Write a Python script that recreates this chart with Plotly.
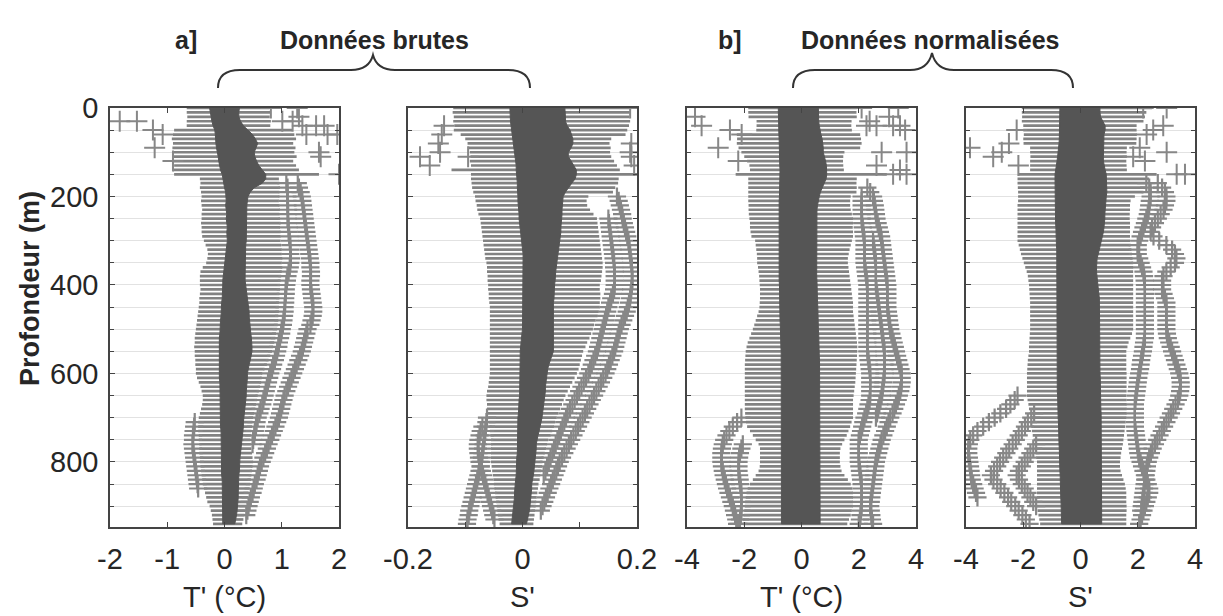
import plotly.graph_objects as go

W, H = 1223, 616

# ---------------- data ----------------
DEPTH = [0, 10, 20, 30, 40, 50, 60, 70, 80, 90,
         100, 110, 120, 130, 140, 150, 160, 170, 180, 190,
         200, 210, 220, 230, 240, 250, 260, 270, 280, 290,
         300, 310, 320, 330, 340, 350, 360, 370, 380, 390,
         400, 410, 420, 430, 440, 450, 460, 470, 480, 490,
         500, 510, 520, 530, 540, 550, 560, 570, 580, 590,
         600, 610, 620, 630, 640, 650, 660, 670, 680, 690,
         700, 710, 720, 730, 740, 750, 760, 770, 780, 790,
         800, 810, 820, 830, 840, 850, 860, 870, 880, 890,
         900, 910, 920, 930, 940]

# ---- panel a1 : T' raw ----
P1_Q1 = [-0.26,-0.25,-0.24,-0.22,-0.20,-0.17,-0.16,-0.16,-0.15,-0.14,
         -0.12,-0.11,-0.10,-0.09,-0.07,-0.04,-0.03,-0.02,0.00,0.02,
         0.03,0.03,0.02,0.03,0.04,0.03,0.04,0.05,0.04,0.05,
         0.05,0.04,0.03,0.02,0.01,0.00,-0.01,-0.01,-0.02,-0.03,
         -0.03,-0.03,-0.04,-0.04,-0.05,-0.05,-0.06,-0.06,-0.07,-0.07,
         -0.08,-0.08,-0.09,-0.09,-0.09,-0.09,-0.10,-0.09,-0.09,-0.09,
         -0.09,-0.09,-0.08,-0.08,-0.07,-0.07,-0.07,-0.08,-0.08,-0.08,
         -0.08,-0.07,-0.07,-0.06,-0.06,-0.06,-0.06,-0.06,-0.06,-0.06,
         -0.06,-0.05,-0.05,-0.05,-0.04,-0.04,-0.04,-0.04,-0.03,-0.03,
         -0.03,-0.03,-0.03,-0.03,-0.03]
P1_Q3 = [0.26,0.25,0.25,0.28,0.33,0.41,0.49,0.54,0.58,0.55,
         0.52,0.53,0.56,0.60,0.66,0.72,0.72,0.66,0.52,0.45,
         0.41,0.40,0.39,0.38,0.38,0.38,0.38,0.38,0.38,0.38,
         0.38,0.37,0.37,0.36,0.36,0.36,0.36,0.36,0.36,0.36,
         0.36,0.37,0.38,0.39,0.40,0.42,0.43,0.43,0.44,0.44,
         0.45,0.46,0.47,0.48,0.48,0.48,0.47,0.45,0.43,0.41,
         0.40,0.40,0.39,0.39,0.38,0.38,0.37,0.36,0.35,0.35,
         0.34,0.33,0.33,0.32,0.31,0.30,0.30,0.29,0.28,0.27,
         0.26,0.26,0.26,0.25,0.25,0.25,0.24,0.24,0.24,0.23,
         0.23,0.22,0.21,0.20,0.18]
P1_WLO = [-0.66,-0.66,-0.65,-0.66,-0.66,-0.88,-0.90,-0.92,-0.90,-0.91,
          -0.90,-0.89,-0.90,-0.88,-0.90,-0.88,-0.43,-0.42,-0.43,-0.41,
          -0.40,-0.41,-0.40,-0.39,-0.40,-0.40,-0.41,-0.40,-0.40,-0.39,
          -0.36,-0.33,-0.30,-0.29,-0.30,-0.32,-0.38,-0.42,-0.43,-0.43,
          -0.43,-0.42,-0.43,-0.44,-0.44,-0.45,-0.46,-0.47,-0.48,-0.49,
          -0.50,-0.51,-0.52,-0.52,-0.53,-0.52,-0.52,-0.51,-0.51,-0.50,
          -0.50,-0.48,-0.45,-0.42,-0.40,-0.38,-0.38,-0.39,-0.41,-0.43,
          -0.45,-0.46,-0.46,-0.46,-0.45,-0.45,-0.44,-0.44,-0.44,-0.43,
          -0.43,-0.42,-0.41,-0.40,-0.39,-0.38,-0.36,-0.34,-0.32,-0.30,
          -0.26,-0.24,-0.22,-0.21,-0.20]
P1_WHI = [0.78,0.80,0.79,0.81,0.80,1.18,1.22,1.25,1.20,1.24,
          1.22,1.26,1.20,1.25,1.30,1.65,0.95,0.96,0.97,0.96,
          0.96,0.95,0.96,0.97,0.96,0.97,0.98,0.97,0.98,0.98,
          0.98,0.99,1.00,1.00,1.01,1.00,1.01,1.00,0.99,0.98,
          0.97,0.97,0.96,0.96,0.95,0.95,0.95,0.94,0.94,0.93,
          0.92,0.90,0.89,0.87,0.85,0.83,0.80,0.77,0.74,0.70,
          0.66,0.65,0.64,0.62,0.60,0.58,0.57,0.55,0.54,0.52,
          0.50,0.49,0.48,0.47,0.46,0.45,0.46,0.47,0.48,0.49,
          0.50,0.49,0.48,0.47,0.46,0.45,0.44,0.42,0.41,0.40,
          0.38,0.36,0.35,0.33,0.31]
P1_STREAK_IN_TOP = 170
P1_STREAK_IN = [1.08,1.10,1.10,
                1.10,1.10,1.10,1.11,1.11,1.10,1.11,1.12,1.12,1.13,
                1.14,1.15,1.15,1.15,1.16,1.15,1.14,1.12,1.10,1.09,
                1.08,1.07,1.07,1.06,1.06,1.05,1.05,1.04,1.03,1.02,
                1.00,0.99,0.97,0.95,0.94,0.92,0.90,0.88,0.85,0.83,
                0.80,0.78,0.76,0.74,0.72,0.70,0.68,0.66,0.63,0.61,
                0.58,0.56,0.55,0.53,0.52,0.50,0.49]
P1_STREAK_OUT_TOP = 170
P1_STREAK_OUT = [1.28,1.30,1.33,
                 1.35,1.36,1.37,1.38,1.39,1.40,1.41,1.42,1.43,1.44,
                 1.45,1.46,1.47,1.48,1.49,1.50,1.50,1.51,1.51,1.50,
                 1.50,1.51,1.52,1.53,1.54,1.55,1.55,1.54,1.52,1.50,
                 1.45,1.43,1.41,1.39,1.37,1.35,1.32,1.29,1.26,1.23,
                 1.20,1.17,1.14,1.11,1.08,1.05,1.03,1.01,0.99,0.97,
                 0.95,0.92,0.89,0.86,0.83,0.80,0.77,0.74,0.71,0.68,
                 0.65,0.62,0.60,0.58,0.56,0.53,0.51,0.49,0.46,0.44,
                 0.42,0.40,0.38]
P1_STREAK_L_TOP = 710
P1_STREAK_L = [-0.52,-0.53,-0.54,-0.55,-0.55,-0.56,-0.55,-0.54,-0.53,-0.52,
               -0.51,-0.50,-0.49,-0.48,-0.47,-0.46]
P1_PLUS_X = [-1.83,-1.53,-1.25,-1.08,-1.22,-0.90,0.81,1.01,1.27,1.19,
             1.36,1.60,1.74,1.80,1.97,1.65,1.68,2.00,1.30,1.43]
P1_PLUS_D = [30,30,50,60,90,120,0,30,0,30,
             40,40,40,60,60,100,110,150,20,60]

# ---- panel a2 : S' raw ----
P2_Q1 = [-0.022,-0.022,-0.021,-0.021,-0.020,-0.019,-0.018,-0.017,-0.016,-0.015,
         -0.013,-0.012,-0.012,-0.011,-0.011,-0.010,-0.010,-0.009,-0.009,-0.008,
         -0.008,-0.008,-0.007,-0.007,-0.006,-0.006,-0.005,-0.004,-0.003,-0.002,
         -0.001,0.000,0.000,0.001,0.001,0.001,0.001,0.001,0.001,0.001,
         0.001,0.001,0.001,0.001,0.001,0.001,0.001,0.000,0.000,0.000,
         0.000,-0.001,-0.002,-0.003,-0.004,-0.004,-0.004,-0.004,-0.004,-0.004,
         -0.004,-0.004,-0.005,-0.005,-0.005,-0.005,-0.006,-0.006,-0.007,-0.007,
         -0.008,-0.008,-0.008,-0.008,-0.008,-0.008,-0.009,-0.009,-0.009,-0.010,
         -0.010,-0.010,-0.011,-0.011,-0.012,-0.013,-0.013,-0.014,-0.014,-0.015,
         -0.016,-0.016,-0.017,-0.018,-0.019]
P2_Q3 = [0.074,0.074,0.075,0.075,0.078,0.083,0.086,0.088,0.088,0.085,
         0.080,0.080,0.085,0.090,0.094,0.094,0.092,0.086,0.080,0.075,
         0.071,0.070,0.070,0.069,0.069,0.068,0.068,0.067,0.067,0.066,
         0.066,0.065,0.064,0.063,0.062,0.060,0.059,0.058,0.057,0.057,
         0.056,0.056,0.055,0.055,0.054,0.053,0.053,0.053,0.053,0.053,
         0.053,0.053,0.054,0.054,0.054,0.054,0.052,0.049,0.046,0.044,
         0.042,0.041,0.041,0.040,0.040,0.040,0.039,0.038,0.036,0.035,
         0.034,0.033,0.031,0.029,0.027,0.025,0.024,0.024,0.023,0.023,
         0.022,0.021,0.020,0.019,0.018,0.016,0.016,0.015,0.014,0.014,
         0.013,0.012,0.010,0.009,0.007]
P2_WLO = [-0.121,-0.122,-0.120,-0.121,-0.119,-0.120,-0.108,-0.100,-0.096,-0.094,
          -0.092,-0.091,-0.092,-0.090,-0.124,-0.090,-0.090,-0.089,-0.088,-0.086,
          -0.083,-0.082,-0.080,-0.079,-0.077,-0.074,-0.073,-0.072,-0.071,-0.070,
          -0.069,-0.068,-0.067,-0.066,-0.065,-0.063,-0.062,-0.062,-0.061,-0.061,
          -0.060,-0.060,-0.059,-0.059,-0.058,-0.057,-0.057,-0.057,-0.057,-0.057,
          -0.057,-0.057,-0.057,-0.057,-0.057,-0.057,-0.057,-0.057,-0.057,-0.057,
          -0.057,-0.058,-0.059,-0.060,-0.062,-0.063,-0.063,-0.062,-0.062,-0.061,
          -0.060,-0.059,-0.058,-0.057,-0.056,-0.055,-0.055,-0.055,-0.055,-0.055,
          -0.055,-0.054,-0.053,-0.052,-0.051,-0.050,-0.049,-0.048,-0.047,-0.046,
          -0.045,-0.044,-0.043,-0.042,-0.040]
P2_WHI = [0.190,0.188,0.187,0.188,0.186,0.183,0.180,0.155,0.152,0.154,
          0.153,0.155,0.160,0.165,0.170,0.200,0.168,0.167,0.162,0.158,
          0.115,0.112,0.113,0.118,0.124,0.130,0.131,0.132,0.133,0.134,
          0.135,0.136,0.137,0.138,0.139,0.140,0.140,0.139,0.138,0.137,
          0.135,0.135,0.136,0.136,0.135,0.135,0.133,0.131,0.128,0.125,
          0.123,0.120,0.117,0.113,0.110,0.106,0.104,0.102,0.100,0.098,
          0.095,0.091,0.087,0.083,0.079,0.075,0.072,0.069,0.066,0.063,
          0.060,0.057,0.055,0.052,0.049,0.045,0.043,0.041,0.039,0.037,
          0.035,0.034,0.033,0.031,0.030,0.028,0.027,0.026,0.025,0.024,
          0.023,0.022,0.021,0.020,0.019]
P2_STREAK_OUT_TOP = 200
P2_STREAK_OUT = [0.165,0.168,0.170,0.172,0.174,0.175,0.177,0.179,0.181,0.183,
                 0.185,0.186,0.187,0.188,0.189,0.190,0.191,0.191,0.192,0.192,
                 0.191,0.190,0.189,0.188,0.186,0.184,0.182,0.179,0.176,0.173,
                 0.170,0.168,0.166,0.164,0.162,0.160,0.157,0.154,0.151,0.148,
                 0.145,0.141,0.137,0.133,0.129,0.125,0.121,0.117,0.113,0.109,
                 0.105,0.101,0.097,0.093,0.089,0.085,0.081,0.077,0.073,0.069,
                 0.065,0.062,0.059,0.056,0.053,0.050,0.047,0.044,0.041,0.038,
                 0.035,0.032]
P2_STREAK_IN_TOP = 250
P2_STREAK_IN = [0.150,0.151,0.152,0.153,0.154,
                0.155,0.156,0.157,0.158,0.159,0.160,0.160,0.161,0.161,0.161,
                0.161,0.160,0.158,0.155,0.153,0.150,0.148,0.146,0.144,0.142,
                0.140,0.138,0.136,0.134,0.132,0.130,0.127,0.124,0.121,0.118,
                0.115,0.111,0.107,0.103,0.099,0.095,0.091,0.087,0.083,0.079,
                0.076,0.073,0.070,0.067,0.064,0.061,0.058,0.055,0.052,0.049,
                0.046,0.043,0.040,0.037]
P2_STREAK_L1_TOP = 700
P2_STREAK_L1 = [-0.062,-0.063,-0.064,-0.065,-0.066,-0.067,-0.068,-0.069,-0.070,-0.071,
                -0.072,-0.073,-0.075,-0.077,-0.079,-0.081,-0.083,-0.085,-0.087,-0.089,
                -0.091,-0.093,-0.094,-0.096,-0.097]
P2_STREAK_L2_TOP = 720
P2_STREAK_L2 = [-0.070,-0.073,-0.075,-0.077,-0.078,-0.078,-0.077,-0.076,
                -0.075,-0.073,-0.071,-0.069,-0.067,-0.065,-0.063,-0.061,-0.059,-0.057,
                -0.055,-0.053,-0.051,-0.049]
P2_PLUS_X = [-0.141,-0.147,-0.179,-0.162,-0.144,-0.095,-0.137,0.188,0.190,0.188,0.190,0.195]
P2_PLUS_D = [60,80,110,130,100,110,40,0,80,100,110,130]

# ---- panel b1 : T' normalised ----
P3_Q1 = [-0.81,-0.81,-0.80,-0.80,-0.80,-0.79,-0.79,-0.78,-0.78,-0.78,
         -0.77,-0.77,-0.76,-0.76,-0.75,-0.75,-0.75,-0.75,-0.76,-0.76,
         -0.77,-0.78,-0.78,-0.79,-0.79,-0.80,-0.80,-0.80,-0.80,-0.80,
         -0.80,-0.80,-0.80,-0.79,-0.79,-0.79,-0.78,-0.78,-0.78,-0.78,
         -0.77,-0.77,-0.77,-0.76,-0.76,-0.76,-0.75,-0.75,-0.75,-0.74,
         -0.74,-0.73,-0.73,-0.72,-0.72,-0.71,-0.71,-0.70,-0.70,-0.70,
         -0.70,-0.70,-0.69,-0.69,-0.69,-0.69,-0.69,-0.69,-0.69,-0.69,
         -0.69,-0.69,-0.69,-0.69,-0.70,-0.70,-0.70,-0.70,-0.70,-0.70,
         -0.70,-0.70,-0.70,-0.70,-0.70,-0.70,-0.70,-0.70,-0.70,-0.70,
         -0.70,-0.70,-0.70,-0.70,-0.70]
P3_Q3 = [0.59,0.59,0.60,0.60,0.62,0.64,0.68,0.72,0.75,0.76,
         0.76,0.80,0.84,0.87,0.88,0.88,0.86,0.80,0.72,0.66,
         0.62,0.58,0.56,0.54,0.53,0.52,0.52,0.52,0.52,0.52,
         0.52,0.52,0.52,0.52,0.52,0.52,0.53,0.53,0.53,0.54,
         0.54,0.55,0.55,0.56,0.56,0.57,0.57,0.58,0.58,0.59,
         0.59,0.60,0.60,0.61,0.61,0.62,0.62,0.63,0.63,0.63,
         0.64,0.64,0.64,0.64,0.65,0.65,0.65,0.65,0.65,0.65,
         0.65,0.65,0.65,0.65,0.65,0.65,0.65,0.65,0.65,0.65,
         0.65,0.65,0.65,0.65,0.65,0.65,0.65,0.65,0.65,0.65,
         0.65,0.65,0.65,0.65,0.65]
P3_WLO = [-1.86,-1.86,-1.85,-1.57,-1.57,-1.58,-2.26,-2.25,-2.26,-2.20,
          -2.10,-2.00,-1.90,-1.82,-1.80,-2.30,-1.86,-1.86,-1.86,-1.86,
          -1.86,-1.86,-1.85,-1.85,-1.84,-1.82,-1.80,-1.80,-1.78,-1.75,
          -1.62,-1.60,-1.58,-1.56,-1.55,-1.55,-1.52,-1.50,-1.48,-1.47,
          -1.46,-1.45,-1.45,-1.45,-1.46,-1.47,-1.50,-1.55,-1.60,-1.65,
          -1.70,-1.76,-1.82,-1.88,-1.92,-1.95,-1.96,-1.97,-1.98,-1.98,
          -1.98,-1.98,-1.98,-1.98,-1.98,-1.98,-1.98,-1.98,-1.98,-1.97,
          -1.96,-1.94,-1.90,-1.80,-1.70,-1.60,-1.50,-1.45,-1.45,-1.45,
          -1.45,-1.46,-1.50,-1.60,-1.70,-1.80,-1.88,-1.92,-1.95,-1.97,
          -1.98,-2.00,-2.02,-2.04,-2.05]
P3_WHI = [1.93,1.92,1.93,1.75,1.74,1.76,2.05,2.08,2.10,2.05,
          1.50,1.46,1.45,1.46,1.48,2.98,1.93,1.92,1.93,1.92,
          1.72,1.70,1.70,1.72,1.76,1.80,1.80,1.79,1.80,1.80,
          1.76,1.72,1.68,1.65,1.62,1.62,1.64,1.66,1.68,1.70,
          1.72,1.74,1.76,1.78,1.80,1.80,1.80,1.82,1.84,1.86,
          1.88,1.90,1.92,1.94,1.95,1.95,1.94,1.93,1.92,1.91,
          1.90,1.89,1.88,1.86,1.84,1.82,1.80,1.80,1.80,1.80,
          1.80,1.75,1.70,1.64,1.58,1.50,1.42,1.36,1.34,1.34,
          1.34,1.36,1.40,1.50,1.62,1.72,1.78,1.80,1.80,1.80,
          1.80,1.76,1.72,1.66,1.60]
P3_STREAK_OUT_TOP = 180
P3_STREAK_OUT = [2.30,2.40,
                 2.50,2.53,2.56,2.58,2.60,2.62,2.66,2.70,2.74,2.78,
                 2.80,2.82,2.84,2.86,2.88,2.90,2.92,2.94,2.96,2.98,
                 3.00,3.00,3.00,3.00,3.00,3.00,3.02,3.04,3.06,3.08,
                 3.10,3.14,3.18,3.22,3.26,3.30,3.34,3.38,3.42,3.46,
                 3.50,3.50,3.50,3.48,3.45,3.40,3.36,3.30,3.24,3.18,
                 3.10,3.04,2.98,2.92,2.86,2.80,2.76,2.72,2.68,2.64,
                 2.60,2.58,2.56,2.54,2.52,2.50,2.48,2.46,2.44,2.42,
                 2.40,2.42,2.44,2.46,2.50]
P3_STREAK_MID_TOP = 300
P3_STREAK_MID = [2.50,2.52,2.54,2.56,2.58,2.60,2.60,2.60,2.60,2.60,
                 2.60,2.62,2.64,2.66,2.68,2.70,2.72,2.74,2.76,2.78,
                 2.80,2.82,2.84,2.86,2.88,2.90,2.90,2.90,2.90,2.90,
                 2.90,2.88,2.86,2.84,2.82,2.80,2.76,2.72,2.68,2.64,
                 2.60]
P3_STREAK_IN_TOP = 200
P3_STREAK_IN = [2.10,2.10,2.10,2.10,2.10,2.10,2.12,2.14,2.16,2.18,
                2.20,2.20,2.20,2.20,2.20,2.20,2.22,2.24,2.26,2.28,
                2.30,2.30,2.30,2.30,2.30,2.30,2.30,2.30,2.30,2.30,
                2.30,2.30,2.30,2.30,2.30,2.30,2.32,2.34,2.36,2.38,
                2.40,2.40,2.40,2.40,2.40,2.40,2.38,2.34,2.30,2.26,
                2.20,2.16,2.12,2.08,2.04,2.00,2.00,2.00,2.00,2.00,
                2.00,2.02,2.04,2.06,2.08,2.10,2.10,2.10,2.10,2.10,
                2.10,2.08,2.06,2.04,2.00]
P3_STREAK_L1_TOP = 700
P3_STREAK_L1 = [-2.10,-2.25,-2.40,-2.52,-2.62,-2.70,-2.75,-2.78,-2.80,-2.80,
                -2.80,-2.78,-2.75,-2.72,-2.68,-2.64,-2.60,-2.55,-2.50,-2.45,
                -2.40,-2.36,-2.32,-2.28,-2.25]
P3_STREAK_L2_TOP = 760
P3_STREAK_L2 = [-2.05,-2.10,-2.15,-2.18,
                -2.20,-2.20,-2.20,-2.18,-2.16,-2.14,-2.12,-2.10,-2.10,-2.10,
                -2.10,-2.10,-2.12,-2.15,-2.20]
P3_PLUS_X = [-3.72,-3.49,-2.50,-2.09,-2.91,-2.21,2.10,3.38,2.27,2.62,3.20,
             3.62,3.44,2.80,3.67,2.62,3.44,3.20,3.67,2.38,3.06]
P3_PLUS_D = [20,40,50,60,90,120,0,0,40,40,40,
             50,40,100,100,130,140,150,150,30,20]

# ---- panel b2 : S' normalised ----
P4_Q1 = [-0.72,-0.72,-0.72,-0.72,-0.72,-0.72,-0.73,-0.74,-0.75,-0.76,
         -0.78,-0.80,-0.82,-0.85,-0.87,-0.89,-0.89,-0.89,-0.89,-0.89,
         -0.89,-0.89,-0.89,-0.88,-0.88,-0.87,-0.87,-0.86,-0.86,-0.85,
         -0.84,-0.84,-0.83,-0.83,-0.83,-0.83,-0.83,-0.83,-0.83,-0.83,
         -0.83,-0.83,-0.83,-0.83,-0.83,-0.83,-0.83,-0.83,-0.83,-0.83,
         -0.83,-0.83,-0.83,-0.83,-0.83,-0.83,-0.83,-0.83,-0.83,-0.83,
         -0.83,-0.82,-0.82,-0.81,-0.81,-0.80,-0.80,-0.79,-0.79,-0.78,
         -0.78,-0.77,-0.77,-0.76,-0.76,-0.75,-0.75,-0.74,-0.74,-0.73,
         -0.73,-0.72,-0.72,-0.71,-0.71,-0.70,-0.70,-0.69,-0.69,-0.68,
         -0.68,-0.67,-0.67,-0.66,-0.66]
P4_Q3 = [0.68,0.68,0.70,0.78,0.86,0.86,0.82,0.80,0.80,0.80,
         0.80,0.80,0.80,0.82,0.86,0.90,0.92,0.92,0.92,0.92,
         0.90,0.88,0.86,0.86,0.85,0.85,0.84,0.82,0.80,0.78,
         0.74,0.70,0.66,0.62,0.58,0.56,0.56,0.56,0.56,0.58,
         0.60,0.62,0.64,0.66,0.68,0.68,0.68,0.68,0.68,0.68,
         0.68,0.68,0.68,0.68,0.68,0.68,0.68,0.68,0.68,0.68,
         0.68,0.69,0.69,0.70,0.70,0.70,0.71,0.71,0.71,0.72,
         0.72,0.72,0.72,0.72,0.73,0.73,0.73,0.73,0.73,0.73,
         0.74,0.74,0.74,0.74,0.74,0.74,0.74,0.74,0.74,0.74,
         0.74,0.74,0.74,0.74,0.74]
P4_WLO = [-2.05,-2.05,-2.04,-2.05,-2.00,-2.00,-1.98,-2.00,-1.99,-1.76,
          -1.76,-1.75,-1.76,-1.76,-1.76,-2.15,-2.20,-2.20,-2.19,-2.18,
          -2.18,-2.18,-2.20,-2.20,-2.20,-2.20,-2.20,-2.20,-2.20,-2.20,
          -2.20,-2.16,-2.12,-2.08,-2.03,-1.98,-1.93,-1.88,-1.84,-1.82,
          -1.80,-1.79,-1.78,-1.77,-1.76,-1.76,-1.76,-1.76,-1.76,-1.76,
          -1.76,-1.77,-1.78,-1.79,-1.80,-1.80,-1.82,-1.84,-1.85,-1.86,
          -1.87,-1.87,-1.87,-1.87,-1.87,-1.87,-1.85,-1.82,-1.80,-1.78,
          -1.76,-1.74,-1.72,-1.70,-1.67,-1.64,-1.62,-1.60,-1.57,-1.55,
          -1.52,-1.52,-1.52,-1.52,-1.52,-1.52,-1.52,-1.52,-1.52,-1.52,
          -1.52,-1.50,-1.47,-1.44,-1.41]
P4_WHI = [2.50,2.30,2.25,2.20,1.96,1.96,1.97,1.96,1.95,1.62,
          1.61,1.62,1.60,1.61,1.62,2.66,2.40,2.35,2.30,2.20,
          1.90,1.75,1.73,1.73,1.72,1.72,1.73,1.73,1.73,1.73,
          1.73,1.75,1.78,1.80,1.82,1.84,1.84,1.84,1.84,1.84,
          1.84,1.84,1.84,1.84,1.84,1.84,1.84,1.84,1.84,1.84,
          1.84,1.80,1.74,1.68,1.64,1.60,1.60,1.60,1.60,1.60,
          1.61,1.61,1.61,1.61,1.61,1.61,1.61,1.61,1.61,1.61,
          1.60,1.58,1.56,1.54,1.52,1.50,1.48,1.45,1.42,1.40,
          1.38,1.38,1.40,1.45,1.50,1.55,1.58,1.60,1.60,1.60,
          1.61,1.61,1.60,1.60,1.60]
P4_STREAK_OUT_TOP = 170
P4_STREAK_OUT = [2.70,2.85,2.95,
                 3.00,3.00,2.95,2.90,2.80,2.70,2.60,2.50,2.45,2.55,
                 2.75,3.00,3.20,3.30,3.35,3.30,3.15,3.00,2.90,2.85,
                 2.85,2.85,2.90,2.95,3.00,3.00,3.00,3.00,3.00,3.00,
                 3.00,3.02,3.05,3.10,3.15,3.20,3.25,3.30,3.35,3.40,
                 3.45,3.48,3.50,3.50,3.48,3.45,3.40,3.32,3.24,3.16,
                 3.08,3.00,2.92,2.84,2.76,2.68,2.60,2.52,2.46,2.40,
                 2.35,2.32,2.30,2.28,2.26,2.24,2.22,2.20,2.18,2.16,
                 2.14,2.12]
P4_STREAK_IN_TOP = 170
P4_STREAK_IN = [2.30,2.40,2.45,
                2.45,2.42,2.40,2.38,2.35,2.30,2.25,2.20,2.15,2.10,
                2.05,2.00,2.00,2.00,2.05,2.10,2.15,2.20,2.22,2.24,
                2.25,2.25,2.25,2.25,2.25,2.25,2.25,2.25,2.25,2.25,
                2.25,2.25,2.25,2.22,2.20,2.18,2.15,2.12,2.10,2.08,
                2.05,2.02,2.00,1.98,1.96,1.94,1.92,1.90,1.90,1.90,
                1.90,1.90,1.90,1.92,1.94,1.96,1.98,2.00,2.02,2.05,
                2.10,2.15,2.20,2.25,2.30,2.35,2.40,2.40,2.35,2.30,
                2.25,2.20,2.15,2.10,2.05]
P4_STREAK_L1_TOP = 650
P4_STREAK_L1 = [-2.20,-2.30,-2.45,-2.60,-2.80,
                -3.00,-3.20,-3.40,-3.60,-3.75,-3.85,-3.90,-3.92,-3.92,-3.90,
                -3.88,-3.86,-3.84,-3.82,-3.80,-3.75,-3.70,-3.65,-3.60]
P4_STREAK_L2_TOP = 690
P4_STREAK_L2 = [-1.62,
                -1.72,-1.84,-1.94,-2.05,-2.16,-2.26,-2.37,-2.49,-2.59,-2.70,
                -2.81,-2.91,-3.02,-3.13,-3.04,-2.91,-2.79,-2.66,-2.53,-2.42,
                -2.28,-2.16,-2.03,-1.91,-1.78]
P4_STREAK_L3_TOP = 760
P4_STREAK_L3 = [-1.55,-1.65,-1.75,-1.85,-1.95,-2.05,-2.15,-2.23,-2.15,-2.05,
                -1.95,-1.85,-1.75,-1.65,-1.55]
P4_PLUS_X = [-2.23,-3.86,-3.05,-2.75,-2.17,-2.50,2.19,3.01,2.54,2.31,2.89,
             2.07,2.25,3.01,3.36,3.65,1.84]
P4_PLUS_D = [50,90,110,100,130,80,0,0,50,60,40,
             90,120,100,150,150,110]

# tick labels
X_TICKS = [
    ([-2, -1, 0, 1, 2], ["-2", "-1", "0", "1", "2"], [-2, 2]),
    ([-0.2, -0.1, 0, 0.1, 0.2], ["-0.2", "", "0", "", "0.2"], [-0.2, 0.2]),
    ([-4, -2, 0, 2, 4], ["-4", "-2", "0", "2", "4"], [-4, 4]),
    ([-4, -2, 0, 2, 4], ["-4", "-2", "0", "2", "4"], [-4, 4]),
]
X_TITLES = ["T' (°C)", "S'", "T' (°C)", "S'"]
Y_TICKS = [0, 200, 400, 600, 800]

# ---------------- figure ----------------
FONT = "Liberation Sans, Arial, Helvetica, sans-serif"
TXT = "#262626"
BAND = "#555555"
WHISK = "#828282"
OUTL = "#878787"

PANELS = [
    dict(q1=P1_Q1, q3=P1_Q3, lo=P1_WLO, hi=P1_WHI,
         streaks=[(P1_STREAK_IN_TOP, P1_STREAK_IN), (P1_STREAK_OUT_TOP, P1_STREAK_OUT),
                  (P1_STREAK_L_TOP, P1_STREAK_L)],
         px=P1_PLUS_X, pd=P1_PLUS_D),
    dict(q1=P2_Q1, q3=P2_Q3, lo=P2_WLO, hi=P2_WHI,
         streaks=[(P2_STREAK_OUT_TOP, P2_STREAK_OUT), (P2_STREAK_IN_TOP, P2_STREAK_IN),
                  (P2_STREAK_L1_TOP, P2_STREAK_L1), (P2_STREAK_L2_TOP, P2_STREAK_L2)],
         px=P2_PLUS_X, pd=P2_PLUS_D),
    dict(q1=P3_Q1, q3=P3_Q3, lo=P3_WLO, hi=P3_WHI,
         streaks=[(P3_STREAK_OUT_TOP, P3_STREAK_OUT), (P3_STREAK_MID_TOP, P3_STREAK_MID),
                  (P3_STREAK_IN_TOP, P3_STREAK_IN),
                  (P3_STREAK_L1_TOP, P3_STREAK_L1), (P3_STREAK_L2_TOP, P3_STREAK_L2)],
         px=P3_PLUS_X, pd=P3_PLUS_D),
    dict(q1=P4_Q1, q3=P4_Q3, lo=P4_WLO, hi=P4_WHI,
         streaks=[(P4_STREAK_OUT_TOP, P4_STREAK_OUT), (P4_STREAK_IN_TOP, P4_STREAK_IN),
                  (P4_STREAK_L1_TOP, P4_STREAK_L1), (P4_STREAK_L2_TOP, P4_STREAK_L2),
                  (P4_STREAK_L3_TOP, P4_STREAK_L3)],
         px=P4_PLUS_X, pd=P4_PLUS_D),
]

for p in PANELS:
    for key in ("q1", "q3", "lo", "hi"):
        assert len(p[key]) == len(DEPTH), (key, len(p[key]))

# pixel layout of the panels, in screen pixels of the 1223x616 window
PX_LEFT = [110, 408, 687, 966]
PX_WIDTH = 229
PX_TOP, PX_BOTTOM = 108, 527
PAGE_MARGIN = 8   # default body margin of the html page


def fx(x):
    return (x - PAGE_MARGIN) / W


def fy(y):
    return 1 - (y - PAGE_MARGIN) / H


fig = go.Figure()

for k, p in enumerate(PANELS, start=1):
    xa = "x" if k == 1 else f"x{k}"
    ya = "y" if k == 1 else f"y{k}"

    # whisker lines (one per depth level)
    wx, wy = [], []
    for a, b, d in zip(p["lo"], p["hi"], DEPTH):
        wx += [a, b, None]
        wy += [d, d, None]
    fig.add_trace(go.Scatter(x=wx, y=wy, mode="lines", xaxis=xa, yaxis=ya,
                             line=dict(color=WHISK, width=2.7), hoverinfo="skip"))

    # outlier streaks
    for top, vals in p["streaks"]:
        i0 = DEPTH.index(top)
        fig.add_trace(go.Scatter(x=vals, y=DEPTH[i0:i0 + len(vals)], mode="markers",
                                 xaxis=xa, yaxis=ya,
                                 marker=dict(symbol="cross-thin", size=13,
                                             line=dict(color=OUTL, width=2.2)),
                                 hoverinfo="skip"))
    # scattered outliers
    fig.add_trace(go.Scatter(x=p["px"], y=p["pd"], mode="markers", xaxis=xa, yaxis=ya,
                             marker=dict(symbol="cross-thin", size=15,
                                         line=dict(color=OUTL, width=2)),
                             hoverinfo="skip"))

    # interquartile band
    fig.add_trace(go.Scatter(x=p["q1"] + p["q3"][::-1], y=DEPTH + DEPTH[::-1],
                             mode="lines", fill="toself", fillcolor=BAND,
                             line=dict(color=BAND, width=1), xaxis=xa, yaxis=ya,
                             hoverinfo="skip"))

    tv, tt, rng = X_TICKS[k - 1]
    left = PX_LEFT[k - 1]
    fig.layout[f"xaxis{'' if k == 1 else k}"] = dict(
        domain=[fx(left), fx(left + PX_WIDTH)], range=rng, anchor=ya, automargin=False,
        tickmode="array", tickvals=tv, ticktext=tt, ticks="inside", ticklen=5,
        tickcolor="#444", mirror="ticks", showline=True, linecolor="#444", linewidth=1.5,
        showgrid=False, zeroline=False, ticklabelstandoff=5,
        tickfont=dict(family=FONT, size=29, color=TXT))
    fig.layout[f"yaxis{'' if k == 1 else k}"] = dict(
        domain=[fy(PX_BOTTOM), fy(PX_TOP)], range=[947, 0], anchor=xa, automargin=False,
        tickmode="array", tickvals=Y_TICKS, ticks="inside", ticklen=5, tickcolor="#444",
        mirror="ticks", showline=True, linecolor="#444", linewidth=1.5,
        showgrid=True, gridcolor="#e2e2e2", gridwidth=1, zeroline=False,
        minor=dict(tickmode="linear", tick0=0, dtick=50, ticks="inside", ticklen=4,
                   tickcolor="#444", showgrid=True, gridcolor="#e2e2e2", gridwidth=1),
        showticklabels=(k == 1), ticklabelstandoff=4,
        tickfont=dict(family=FONT, size=29, color=TXT))

annots = []
for k, title in enumerate(X_TITLES):
    annots.append(dict(x=fx(PX_LEFT[k] + PX_WIDTH / 2), y=fy(597), xref="paper", yref="paper",
                       text=title, showarrow=False, xanchor="center", yanchor="middle",
                       font=dict(family=FONT, size=29, color=TXT)))
annots.append(dict(x=fx(30), y=fy(289), xref="paper", yref="paper", text="<b>Profondeur (m)</b>",
                   textangle=-90, showarrow=False, xanchor="center", yanchor="middle",
                   font=dict(family=FONT, size=27, color=TXT)))
for txt, xc in [("<b>a]</b>", 186), ("<b>Données brutes</b>", 374),
                ("<b>b]</b>", 730), ("<b>Données normalisées</b>", 930)]:
    annots.append(dict(x=fx(xc), y=fy(40), xref="paper", yref="paper", text=txt,
                       showarrow=False, xanchor="center", yanchor="middle",
                       font=dict(family=FONT, size=25, color=TXT)))


def brace(x0, x1, xc, ytip, yflat, yend):
    r = 22
    path = (f"M {fx(x0)},{fy(yend)} Q {fx(x0)},{fy(yflat)} {fx(x0 + r)},{fy(yflat)} "
            f"L {fx(xc - 22)},{fy(yflat)} Q {fx(xc - 4)},{fy(yflat)} {fx(xc)},{fy(ytip)} "
            f"Q {fx(xc + 4)},{fy(yflat)} {fx(xc + 22)},{fy(yflat)} "
            f"L {fx(x1 - r)},{fy(yflat)} Q {fx(x1)},{fy(yflat)} {fx(x1)},{fy(yend)}")
    return dict(type="path", xref="paper", yref="paper", path=path,
                line=dict(color="#333", width=2))


shapes = [brace(218, 530, 373, 55, 70, 88), brace(793, 1073, 932, 53, 70, 88)]

fig.update_layout(width=W, height=H, margin=dict(l=0, r=0, t=0, b=0, autoexpand=False),
                  paper_bgcolor="#ffffff", plot_bgcolor="#ffffff",
                  showlegend=False, annotations=annots, shapes=shapes,
                  font=dict(family=FONT, color=TXT))

fig.write_html("out.html")
